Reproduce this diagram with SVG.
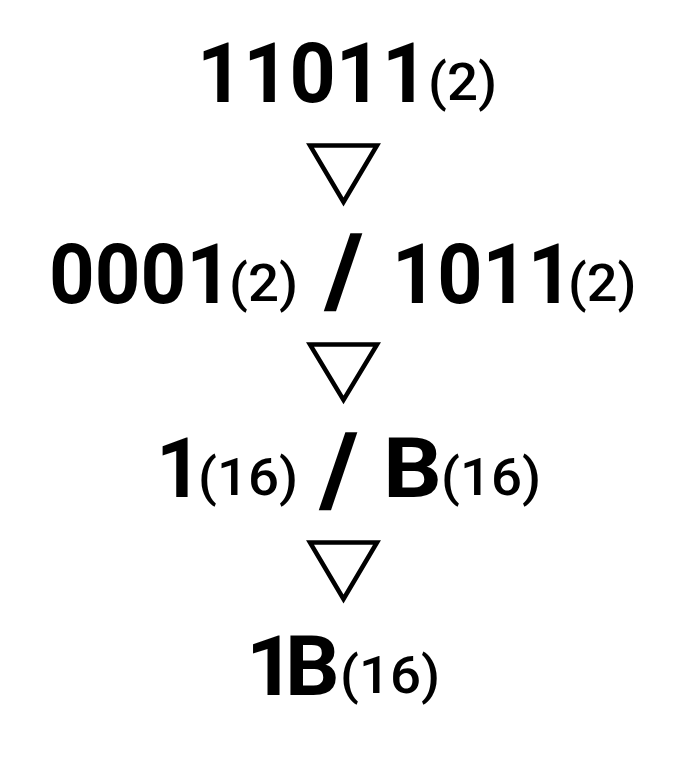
<svg xmlns="http://www.w3.org/2000/svg" width="678" height="768" viewBox="0 0 678 768">
<style>
.m{font-family:Roboto,"Liberation Sans",Arial,sans-serif;font-weight:700;font-size:84px;fill:#000}
.s{font-family:Roboto,"Liberation Sans",Arial,sans-serif;font-weight:500;font-size:52px;fill:#000}
.sl{font-family:"Liberation Sans",Arial,sans-serif;font-size:104px;fill:#000;stroke:#000;stroke-width:1.5px}
.tri{fill:none;stroke:#000;stroke-width:4.5;stroke-linejoin:miter}
</style>
<rect width="678" height="768" fill="#fff"/>
<g id="n1">
<text class="m" transform="translate(197,102) scale(0.96,1)">11011</text>
<text class="s" transform="translate(428,100) scale(1.05,1)">(2)</text>
</g>
<g id="n2">
<text class="m" transform="translate(49,303) scale(0.95,1)">0001</text>
<text class="s" transform="translate(229,301) scale(1.05,1)">(2)</text>
<text class="sl" transform="translate(325,309) scale(1.25,1)">/</text>
<text class="m" transform="translate(392,303) scale(0.94,1)">1011</text>
<text class="s" transform="translate(568,301) scale(1.04,1)">(2)</text>
</g>
<g id="n3">
<text class="m" transform="translate(156,497) scale(0.96,1)">1</text>
<text class="s" transform="translate(198,495) scale(1.05,1)">(16)</text>
<text class="sl" transform="translate(320,508) scale(1.25,1)">/</text>
<text class="m" transform="translate(383,497) scale(1.1,1)">B</text>
<text class="s" transform="translate(441,495) scale(1.05,1)">(16)</text>
</g>
<g id="n4">
<text class="m" transform="translate(246,695) scale(1.02,1)">1<tspan dx="-10">B</tspan></text>
<text class="s" transform="translate(340,693) scale(1.05,1)">(16)</text>
</g>
<g id="connectors">
<polygon class="tri" points="310,145.5 377,145.5 343.5,202"/>
<polygon class="tri" points="310,344.5 377,344.5 343.5,400"/>
<polygon class="tri" points="310,542.5 377,542.5 343.5,599"/>
</g>
</svg>
